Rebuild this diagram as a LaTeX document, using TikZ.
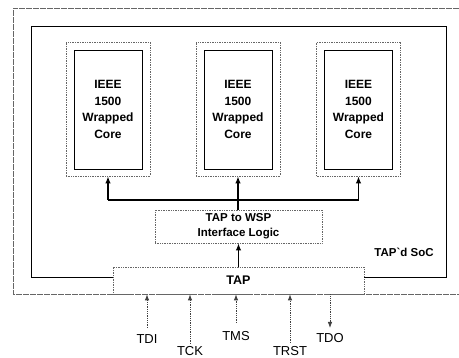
\documentclass[tikz,border=0pt]{standalone}
\usepackage{fontspec}
\setmainfont{Liberation Sans}
\usetikzlibrary{arrows.meta,calc}
\definecolor{scanline}{gray}{0.4}
\tikzset{frameline/.style={draw=scanline,line width=0.6pt,dash pattern=on 6pt off 1pt},
         socline/.style={draw=black,line width=0.8pt},
         coreframe/.style={draw=scanline,line width=0.7pt,densely dotted,minimum width=84pt,minimum height=134pt},
         corebox/.style={draw=black,line width=0.7pt,minimum width=68pt,minimum height=119pt,align=center,
                          font=\fontsize{12}{16.7}\selectfont\bfseries},
         logicbox/.style={draw=scanline,line width=0.7pt,densely dotted,align=center,
                          font=\fontsize{11.5}{15}\selectfont\bfseries},
         bus/.style={draw=black,line width=1.5pt},
         busarrow/.style={bus,-{Latex[length=7pt,width=5.5pt]}},
         sigline/.style={draw=black!75,line width=0.8pt,densely dotted,-{Latex[length=6pt,width=4.5pt]}},
         sigtext/.style={inner sep=0pt,anchor=north,font=\fontsize{13}{15}\selectfont}}

\begin{document}
\begin{tikzpicture}[x=1pt,y=-1pt]
  \useasboundingbox (0,0) rectangle (459,358);
  % chip frame, cut by the right margin
  \draw[frameline] (459,8) -- (13,8) -- (13,294) -- (459,294);
  % three wrapped cores
  \node[coreframe] (core1) at (108,109) {};
  \node[corebox] (core1in) at (108,109.5) {IEEE\\1500\\Wrapped\\Core};
  \node[coreframe] (core2) at (238,109) {};
  \node[corebox] (core2in) at (238,109.5) {IEEE\\1500\\Wrapped\\Core};
  \node[coreframe] (core3) at (358.5,109) {};
  \node[corebox] (core3in) at (358.5,109.5) {IEEE\\1500\\Wrapped\\Core};
  % TAP and the interface logic
  \node[draw=scanline,line width=0.7pt,densely dotted,minimum width=251pt,minimum height=27pt,
        font=\fontsize{12.5}{15}\selectfont\bfseries] (tap) at (238.5,280.5) {TAP};
  \node[logicbox,minimum width=167pt,minimum height=33pt] (iface) at (238.5,226.5) {TAP to WSP\\Interface Logic};
  % SoC boundary
  \coordinate (socnw) at (31,26);
  \coordinate (socse) at (446,277);
  \draw[socline] (tap.west |- socse) -- (socnw |- socse) -- (socnw) -- (socnw -| socse)
                 -- (socse) -- (tap.east |- socse);
  \node[font=\fontsize{11.5}{14}\selectfont\bfseries] (soc) at (404,252) {TAP\textasciigrave d SoC};
  % bus to the cores
  \coordinate (bus) at (238,200);
  \draw[bus] (core1.south |- bus) -- (core3.south |- bus);
  \draw[busarrow] (core1.south |- bus) -- (core1.south);
  \draw[busarrow] (core3.south |- bus) -- (core3.south);
  \draw[busarrow] (iface.north -| core2.south) -- (core2.south);
  \draw[busarrow] (tap.north -| iface.south) -- (iface.south);
  % test port pins
  \coordinate (tdiend) at (147,328);
  \coordinate (tckend) at (190,344);
  \coordinate (tmsend) at (236,323);
  \coordinate (trstend) at (290,343);
  \coordinate (tdoend) at (330,328);
  \node[sigtext] (tdi) at (147,334) {TDI};
  \node[sigtext] (tck) at (190,346) {TCK};
  \node[sigtext] (tms) at (236,331) {TMS};
  \node[sigtext] (trst) at (290,346) {TRST};
  \node[sigtext] (tdo) at (330,333) {TDO};
  \draw[sigline] (tdiend) -- (tdiend |- tap.south);
  \draw[sigline] (tckend) -- (tckend |- tap.south);
  \draw[sigline] (tmsend) -- (tmsend |- tap.south);
  \draw[sigline] (trstend) -- (trstend |- tap.south);
  \draw[sigline] (tdoend |- tap.south) -- (tdoend);
\end{tikzpicture}
\end{document}
